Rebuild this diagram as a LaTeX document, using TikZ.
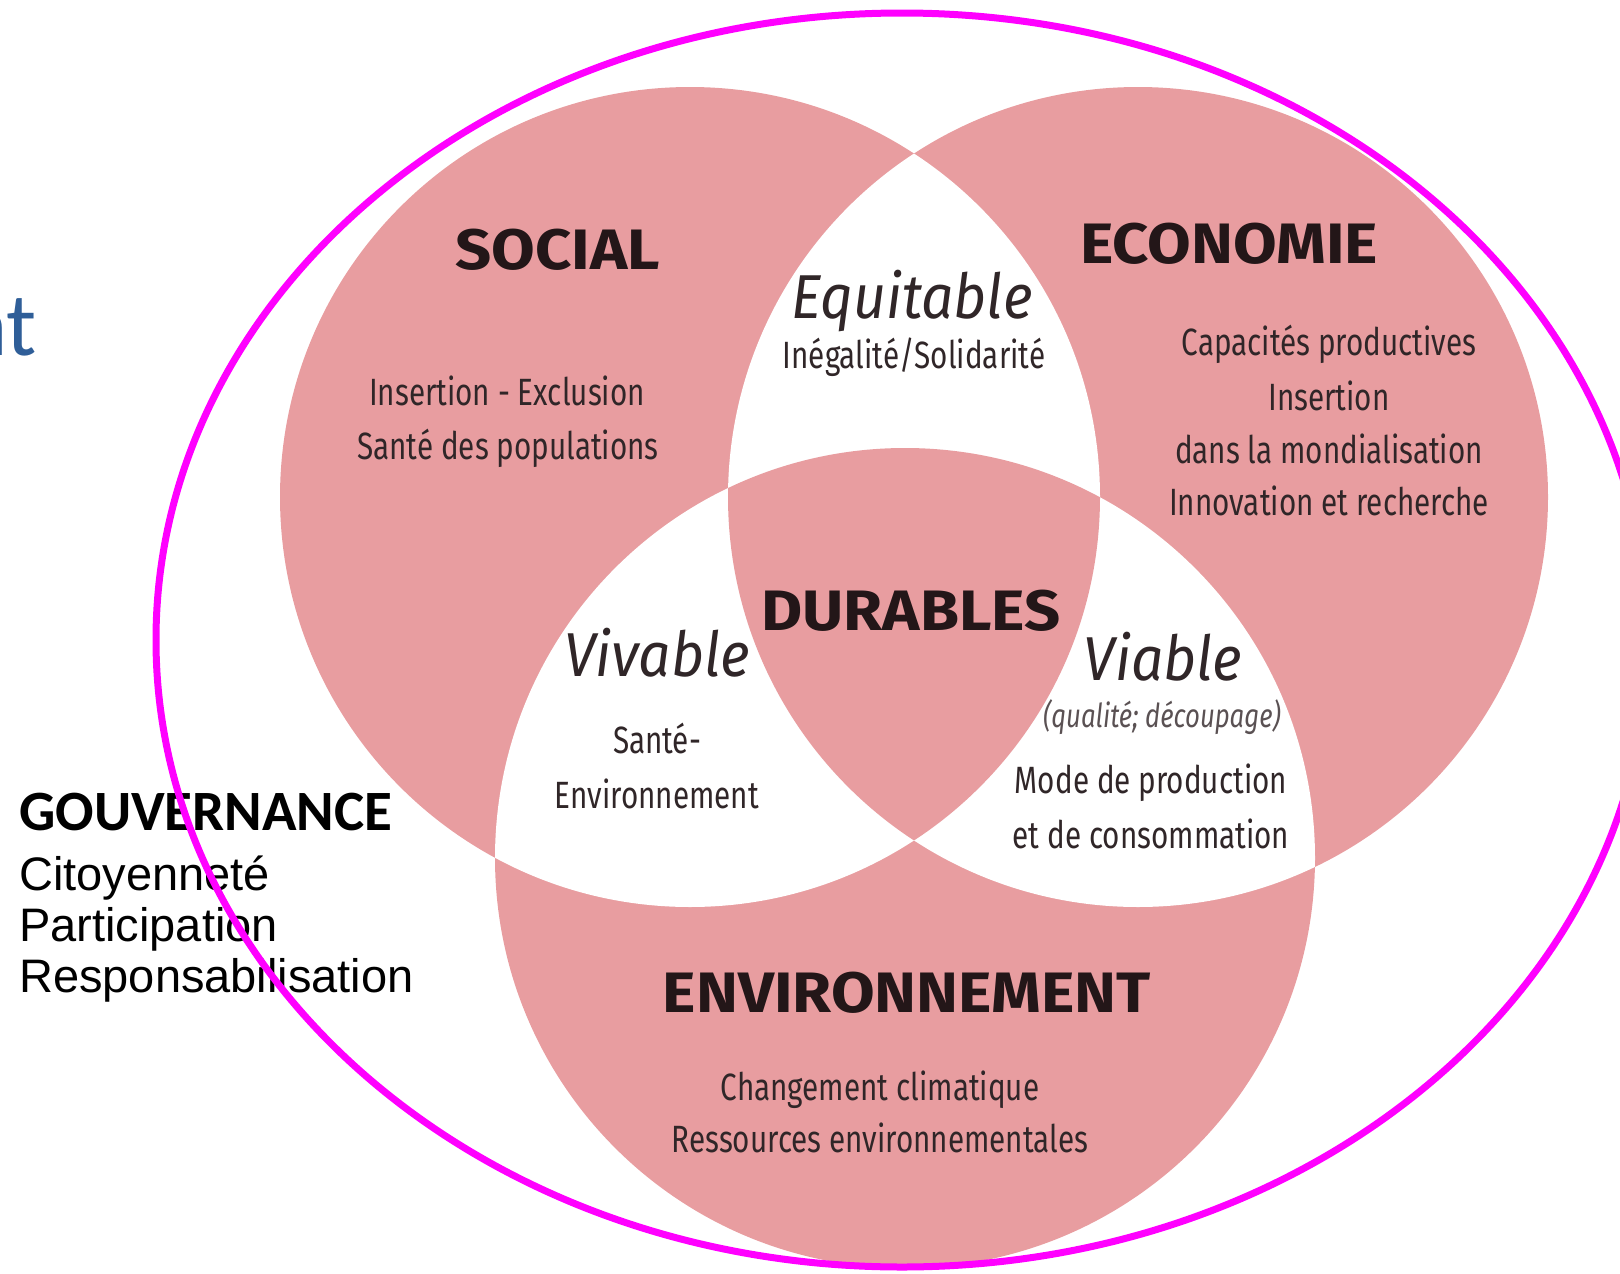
\documentclass[tikz,border=0pt]{standalone}
\usepackage{fontspec}
\usepackage{xcolor}
\usepackage{tikz}
\usetikzlibrary{positioning}
\setmainfont{Fira Sans}
\newfontfamily\titlefont[FakeStretch=1.11]{Fira Sans}
\newfontfamily\condfont[FakeStretch=0.78]{Fira Sans}
\newfontfamily\italfont[FakeStretch=0.92]{Fira Sans}
\newfontfamily\calfont{Carlito}
\newfontfamily\arialfont{Liberation Sans}
\definecolor{venn}{RGB}{232,157,160}
\definecolor{ink}{RGB}{35,22,24}
\definecolor{gris}{RGB}{48,38,40}
\definecolor{bleu}{RGB}{47,94,152}
\definecolor{contour}{RGB}{255,0,255}
\tikzstyle{titre}=[font=\titlefont\bfseries\fontsize{57}{60}\selectfont,text=ink,inner sep=0pt,anchor=base]
\tikzstyle{qualif}=[font=\italfont\itshape\fontsize{62}{66}\selectfont,text=gris,inner sep=0pt,anchor=base]
\tikzstyle{detail}=[font=\condfont\fontsize{38}{40}\selectfont,text=gris,inner sep=0pt,anchor=base]
\tikzstyle{petit}=[font=\condfont\itshape\fontsize{33}{35}\selectfont,text=gris!80,inner sep=0pt,anchor=base]
\tikzstyle{gouv}=[font=\arialfont\fontsize{47}{50}\selectfont,text=black,inner sep=0pt,anchor=base west]
\tikzset{cercle/.style={fill=venn,draw=none}}

\begin{document}
\begin{tikzpicture}[x=1pt,y=-1pt]

\useasboundingbox (0,0) rectangle (1620,1274);

 %cercles
 \def\rayon{410}
 \coordinate (soc) at (690,497);
 \coordinate (eco) at (1138,497);
 \coordinate (env) at (905,858);
 \coordinate (cadre) at (902,640);

 \foreach \c in {soc,eco,env}
   \fill[cercle] (\c) circle[radius=\rayon];

 %intersections deux a deux
 \foreach \a/\b in {soc/eco, soc/env, eco/env}
   {
   \begin{scope}
     \clip (\a) circle[radius=\rayon];
     \fill[white] (\b) circle[radius=\rayon];
   \end{scope}
   }

 %centre
 \begin{scope}
   \clip (soc) circle[radius=\rayon];
   \clip (eco) circle[radius=\rayon];
   \fill[cercle] (env) circle[radius=\rayon];
 \end{scope}

 %titres
 \foreach \x/\y/\name/\label in {558/269/social/SOCIAL, 1229/263/economie/ECONOMIE, 911/630/durables/DURABLES, 907/1012/environnement/ENVIRONNEMENT}
   \node[titre] (\name) at (\x,\y) {\label};

 \foreach \x/\y/\name/\label in {912/318/equitable/Equitable, 657/676/vivable/Vivable, 1163/680/viable/Viable}
   \node[qualif] (\name) at (\x,\y) {\label};

 \node[petit] (qualite) at (1162,727) {(qualité; découpage)};

 %details
 \foreach \x/\y/\name/\label in {914/368/ineg/{Inégalité/Solidarité}, 507/405/insex/Insertion - Exclusion, 508/459/sante/Santé des populations,
     1329/355/capa/Capacités productives, 1329/410/inser/Insertion, 1329/463/mondial/dans la mondialisation, 1329/515/innov/Innovation et recherche,
     657/753/santeenv/Santé-, 657/808/envir/Environnement,
     1151/793/mode/Mode de production, 1151/848/conso/et de consommation,
     880/1100/climat/Changement climatique, 880/1152/ressources/Ressources environnementales}
   \node[detail] (\name) at (\x,\y) {\label};

 %gouvernance
 \node[gouv,font=\calfont\bfseries\fontsize{57}{60}\selectfont] (gouvernance) at (19,830) {GOUVERNANCE};
 \foreach \y/\name/\label in {890/citoyen/Citoyenneté, 941/particip/Participation, 992/respons/Responsabilisation}
   \node[gouv] (\name) at (19,\y) {\label};

 \node[font=\calfont\fontsize{90}{94}\selectfont,text=bleu,inner sep=0pt,anchor=base east] (coupe) at (37,355) {nt};

 %contour
 \draw[contour,line width=7pt] (cadre) ellipse[x radius=746,y radius=627];

\end{tikzpicture}
\end{document}
